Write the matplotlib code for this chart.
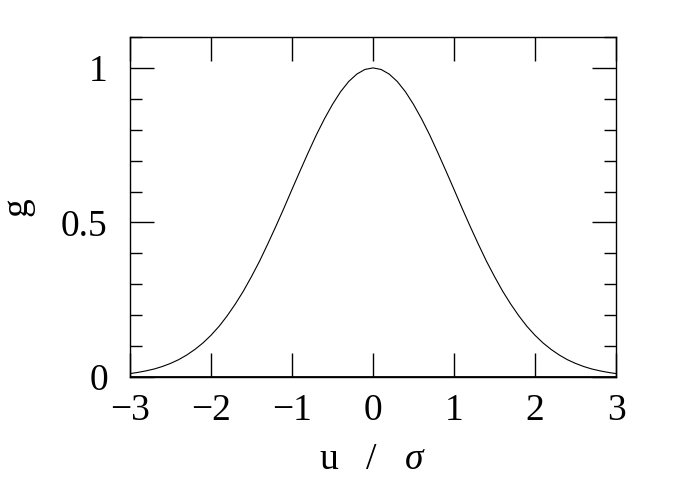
import matplotlib
matplotlib.use("Agg")
import matplotlib.pyplot as plt
import numpy as np

u_pos = [0.0, 0.1, 0.2, 0.3, 0.4, 0.5, 0.6, 0.7, 0.8, 0.9, 1.0,
         1.1, 1.2, 1.3, 1.4, 1.5, 1.6, 1.7, 1.8, 1.9, 2.0,
         2.1, 2.2, 2.3, 2.4, 2.5, 2.6, 2.7, 2.8, 2.9, 3.0]
g_pos = [1.000, 0.995, 0.980, 0.956, 0.923, 0.882, 0.835, 0.783, 0.726, 0.667, 0.607,
         0.546, 0.487, 0.430, 0.375, 0.325, 0.278, 0.236, 0.198, 0.164, 0.135,
         0.110, 0.089, 0.071, 0.056, 0.044, 0.034, 0.026, 0.020, 0.015, 0.011]
u_vals = [-x for x in u_pos[:0:-1]] + u_pos
g_vals = g_pos[:0:-1] + g_pos

x_ticks = [-3, -2, -1, 0, 1, 2, 3]
x_ticklabels = ["\u22123", "\u22122", "\u22121", "0", "1", "2", "3"]
y_ticks = [0, 0.5, 1]
y_ticklabels = ["0", "0.5", "1"]
y_minor = [0.1, 0.2, 0.3, 0.4, 0.6, 0.7, 0.8, 0.9, 1.1]

plt.rcParams['font.family'] = ['Liberation Serif', 'DejaVu Serif']
plt.rcParams['mathtext.fontset'] = 'custom'
plt.rcParams['mathtext.it'] = 'Liberation Serif:italic'
plt.rcParams['mathtext.rm'] = 'Liberation Serif'
fig = plt.figure(figsize=(6.86, 4.9), dpi=100)
ax = fig.add_axes([130/686, 1-377/490, 486/686, 340/490])
ax.plot(u_vals, g_vals, color='black', lw=0.8)
ax.axhline(0, color='black', lw=2.0)
ax.set_xlim(-3, 3)
ax.set_ylim(0, 1.1)
ax.set_xticks(x_ticks)
ax.set_xticklabels(x_ticklabels)
ax.set_yticks(y_ticks)
ax.set_yticklabels(y_ticklabels)
ax.set_yticks(y_minor, minor=True)
ax.tick_params(which='major', direction='in', length=17, width=1.0,
               top=True, right=True, labelsize=27, pad=12)
ax.tick_params(which='minor', direction='in', length=8.5, width=1.0,
               left=True, right=True)
ax.tick_params(axis='y', which='major', pad=16)
for s in ax.spines.values():
    s.set_linewidth(1.0)
ax.set_xlabel("u   /   $\\sigma$", fontsize=27, labelpad=10)
ax.set_ylabel("g", fontsize=27, labelpad=19)
fig.savefig("out.png", dpi=100)
